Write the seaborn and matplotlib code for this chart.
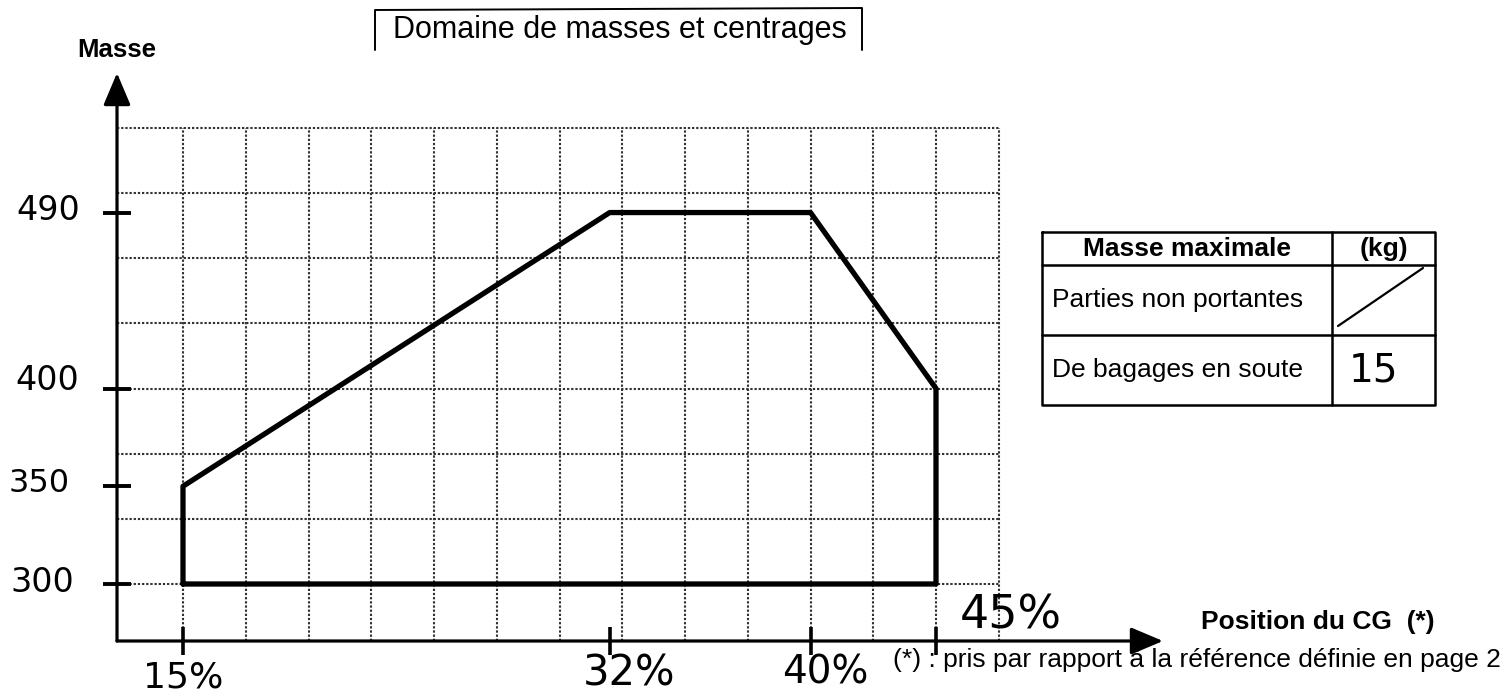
import numpy as np
import pandas as pd
import matplotlib
matplotlib.use("Agg")
import matplotlib.pyplot as plt
import seaborn as sns

# ---------------- data ----------------
cg_pct = [15, 15, 32, 40, 45, 45, 15]          # position du CG (%)
masse_kg = [300, 350, 490, 490, 400, 300, 300]  # masse (kg)
x_tick_values = [15, 32, 40, 45]
x_tick_labels = ["15%", "32%", "40%", "45%"]
y_tick_values = [490, 400, 350, 300]
y_tick_labels = ["490", "400", "350", "300"]
table_header = ["Masse maximale", "(kg)"]
table_rows = ["Parties non portantes", "De bagages en soute"]
table_values = ["/", "15"]

sns.set_theme(style="white")
plt.rcParams["font.family"] = ["Liberation Sans", "DejaVu Sans"]
plt.rcParams["text.color"] = "black"

W, H = 1512, 696
fig = plt.figure(figsize=(W / 100, H / 100), dpi=100)
fig.patch.set_facecolor("white")

# main axes spanning the figure, scaled so the grid lands where the reference has it
PX_PCT, PX_KG = 25.1, 1.955
X0_PX, Y0_PX = 183, 584
ax = fig.add_axes([0, 0, 1, 1])
ax.set_xlim(15 - X0_PX / PX_PCT, 15 + (W - X0_PX) / PX_PCT)
ax.set_ylim(300 - (H - Y0_PX) / PX_KG, 300 + Y0_PX / PX_KG)
ax.axis("off")

axis_x = 15 - (X0_PX - 117) / PX_PCT
axis_y = 300 - (641 - Y0_PX) / PX_KG

# graph-paper grid
grid_x = 15 + 2.5 * np.arange(14)
grid_y = 300 + (100 / 3) * np.arange(8)
gstyle = dict(colors="#333333", linestyles=(0, (1.1, 0.9)), lw=1.5, zorder=1)
ax.vlines(grid_x, axis_y, grid_y[-1], **gstyle)
ax.hlines(grid_y, axis_x, grid_x[-1], **gstyle)

# envelope polygon
df = pd.DataFrame({"cg": cg_pct, "masse": masse_kg})
sns.lineplot(data=df, x="cg", y="masse", sort=False, estimator=None,
             color="black", lw=3.8, ax=ax, zorder=3)
ax.axis("off")

# axes with arrows
arrow = dict(arrowstyle="-|>,head_length=0.9,head_width=0.38", lw=2.3,
             color="black", shrinkA=0, shrinkB=0, mutation_scale=22)
y_top = 300 + (Y0_PX - 73) / PX_KG
x_right = 15 + (1163 - X0_PX) / PX_PCT
ax.annotate("", xy=(axis_x, y_top), xytext=(axis_x, axis_y), arrowprops=arrow, zorder=4)
ax.annotate("", xy=(x_right, axis_y), xytext=(axis_x, axis_y), arrowprops=arrow, zorder=4)

# tick marks
ax.plot([axis_x] * len(y_tick_values), y_tick_values, ls="", marker="_",
        ms=20, mew=2.8, color="black", zorder=4)
ax.plot(x_tick_values, [axis_y] * len(x_tick_values), ls="", marker="|",
        ms=20, mew=2.6, color="black", zorder=4)

# handwritten-style tick labels
hand = ["DejaVu Sans"]
y_offsets = [(-69, 2, 24), (-70, 8, 24), (-78, 3, 23), (-75, 1, 24)]
for v, lab, (dx, dy, fs) in zip(y_tick_values, y_tick_labels, y_offsets):
    ax.annotate(lab, xy=(axis_x, v), xytext=(dx, dy), textcoords="offset pixels",
                ha="center", va="center", fontsize=fs, family=hand, color="black")
x_offsets = [(0, -36, 26), (19, -32, 30), (15, -32, 28), (75, 25, 33)]
for v, lab, (dx, dy, fs) in zip(x_tick_values, x_tick_labels, x_offsets):
    ax.annotate(lab, xy=(v, axis_y), xytext=(dx, dy), textcoords="offset pixels",
                ha="center", va="center", fontsize=fs, family=hand, color="black")

# ---------------- overlay in pixel coordinates ----------------
ov = fig.add_axes([0, 0, 1, 1], facecolor="none")
ov.set_xlim(0, W)
ov.set_ylim(H, 0)
ov.axis("off")

# title with open box
ov.plot([375, 375, 862, 862], [50, 10, 8, 50], color="black", lw=1.4)
ov.text(620, 30, "Domaine de masses et centrages", ha="center", va="center", fontsize=22)

ov.text(117, 50, "Masse", ha="center", va="center", fontsize=18.5, fontweight="bold")
ov.text(1318, 622, "Position du CG  (*)", ha="center", va="center", fontsize=19,
        fontweight="bold")
ov.text(893, 660, "(*) : pris par rapport à la référence définie en page 2",
        ha="left", va="center", fontsize=19)

# table
tl, tr, tt, tb, tc = 1042, 1435, 232, 405, 1332
row_lines = [265, 335]
tkw = dict(color="black", lw=1.8)
ov.plot([tl, tr, tr, tl, tl], [tt, tt, tb, tb, tt], **tkw)
ov.plot([tc, tc], [tt, tb], **tkw)
for ry in row_lines:
    ov.plot([tl, tr], [ry, ry], **tkw)
ov.text((tl + tc) / 2, 249, table_header[0], ha="center", va="center",
        fontsize=19, fontweight="bold")
ov.text((tc + tr) / 2, 249, table_header[1], ha="center", va="center",
        fontsize=19, fontweight="bold")
row_y = [300, 370]
for ry, lab in zip(row_y, table_rows):
    ov.text(1052, ry, lab, ha="left", va="center", fontsize=19)
# first value: struck-through cell
ov.plot([1338, 1423], [326, 268], color="black", lw=1.6)
ov.text(1373, row_y[1], table_values[1], ha="center", va="center", fontsize=28,
        family=hand)

fig.savefig("out.png", dpi=100)
